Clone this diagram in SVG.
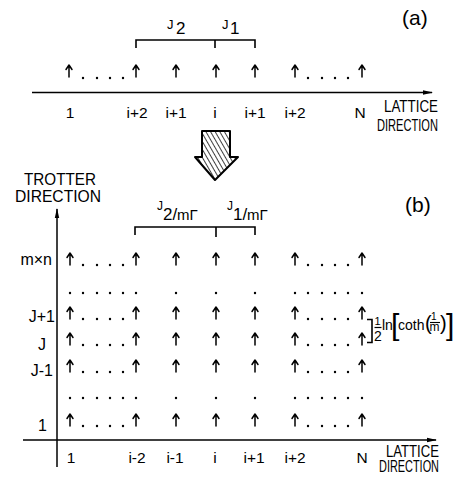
<svg xmlns="http://www.w3.org/2000/svg" xmlns:xlink="http://www.w3.org/1999/xlink" width="469" height="481" viewBox="0 0 469 481">
<style>
text{font-family:"Liberation Sans",Arial,sans-serif;fill:#000}
.lb{font-size:15.5px;text-anchor:middle}
.ax{fill:none;stroke:#000;stroke-width:1.5}
.br{fill:none;stroke:#000;stroke-width:1.6}
.sp{fill:none;stroke:#000;stroke-width:1.5;stroke-linecap:round;stroke-linejoin:round}
.dt{fill:#000}
.cap{font-size:17px}
</style>
<defs>
<symbol id="up" overflow="visible"><path class="sp" d="M0,12 V0.5 M-3,4.5 L0,0 L3,4.5"/></symbol>
<marker id="ah" markerWidth="10" markerHeight="6" refX="9" refY="3" orient="auto" markerUnits="userSpaceOnUse"><path d="M0,0.8 L10,3 L0,5.2 Z" fill="#000"/></marker>
<pattern id="hatch" width="4" height="4" patternUnits="userSpaceOnUse" patternTransform="rotate(-30)"><line x1="0" y1="0" x2="0" y2="4" stroke="#000" stroke-width="1.5"/></pattern>
</defs>

<!-- Part (a) -->
<g id="label-a"><text x="402" y="25" style="font-size:21px">(a)</text></g>
<g id="couplings-a">
<text x="167" y="29" style="font-size:13px">J</text><text x="176" y="34" style="font-size:17px">2</text>
<text x="222" y="29" style="font-size:13px">J</text><text x="230" y="34" style="font-size:17px">1</text>
<path class="br" d="M136,48 V40 H255 V48 M215,40 V48"/>
</g>
<g id="chain-a">
<use xlink:href="#up" x="69" y="65"/><use xlink:href="#up" x="136" y="65"/><use xlink:href="#up" x="176" y="65"/><use xlink:href="#up" x="216" y="65"/><use xlink:href="#up" x="255" y="65"/><use xlink:href="#up" x="295" y="65"/><use xlink:href="#up" x="362" y="65"/>
<g class="dt"><circle cx="83" cy="78" r="1.2"/><circle cx="97" cy="78" r="1.2"/><circle cx="110" cy="78" r="1.2"/><circle cx="123" cy="78" r="1.2"/><circle cx="308" cy="78" r="1.2"/><circle cx="322" cy="78" r="1.2"/><circle cx="335" cy="78" r="1.2"/><circle cx="348" cy="78" r="1.2"/></g>
</g>
<g id="axis-a">
<line class="ax" x1="32" y1="92.5" x2="432" y2="92.5" marker-end="url(#ah)"/>
<text class="lb" x="70" y="118">1</text><text class="lb" x="137" y="118">i+2</text><text class="lb" x="176" y="118">i+1</text><text class="lb" x="215" y="118">i</text><text class="lb" x="255" y="118">i+1</text><text class="lb" x="295" y="118">i+2</text><text class="lb" x="360" y="118">N</text>
<text class="cap" x="384" y="112" textLength="54" lengthAdjust="spacingAndGlyphs">LATTICE</text>
<text class="cap" x="377" y="131" textLength="61" lengthAdjust="spacingAndGlyphs">DIRECTION</text>
</g>

<!-- transformation arrow -->
<g id="transform-arrow">
<path d="M202,131 H230 V157 H238 L215,180 L195,157 H202 Z" fill="url(#hatch)" stroke="#000" stroke-width="2" stroke-linejoin="round"/>
</g>

<!-- Part (b) -->
<g id="label-b"><text x="405" y="212" style="font-size:21px">(b)</text></g>
<g id="trotter-label">
<text class="cap" x="24" y="185" textLength="72" lengthAdjust="spacingAndGlyphs">TROTTER</text>
<text class="cap" x="15" y="202" textLength="86" lengthAdjust="spacingAndGlyphs">DIRECTION</text>
</g>
<g id="couplings-b">
<text x="157" y="210" style="font-size:12px">J</text><text x="163" y="220" style="font-size:17px">2/</text><text x="177" y="220" style="font-size:15px">mΓ</text>
<text x="227" y="210" style="font-size:12px">J</text><text x="233" y="220" style="font-size:17px">1/</text><text x="247" y="220" style="font-size:15px">mΓ</text>
<path class="br" d="M135,235 V227 H255 V235 M216,227 V237"/>
</g>
<g id="axes-b">
<line class="ax" x1="57" y1="467" x2="57" y2="209" marker-end="url(#ah)"/>
<line class="ax" x1="23" y1="440" x2="436" y2="440" marker-end="url(#ah)"/>
</g>
<g id="row-labels">
<text x="52" y="265" style="font-size:16px;text-anchor:end">m×n</text>
<text x="55" y="322" style="font-size:16px;text-anchor:end">J+1</text>
<text x="46" y="350" style="font-size:16px;text-anchor:end">J</text>
<text x="53" y="376" style="font-size:16px;text-anchor:end">J-1</text>
<text x="47" y="431" style="font-size:16px;text-anchor:end">1</text>
</g>
<g id="lattice-b">
<g id="row-mn">
<use xlink:href="#up" x="70" y="253"/><use xlink:href="#up" x="136" y="253"/><use xlink:href="#up" x="176" y="253"/><use xlink:href="#up" x="216" y="253"/><use xlink:href="#up" x="255" y="253"/><use xlink:href="#up" x="295" y="253"/><use xlink:href="#up" x="362" y="253"/>
<g class="dt"><circle cx="83" cy="265" r="1.2"/><circle cx="97" cy="265" r="1.2"/><circle cx="110" cy="265" r="1.2"/><circle cx="123" cy="265" r="1.2"/><circle cx="308" cy="265" r="1.2"/><circle cx="322" cy="265" r="1.2"/><circle cx="335" cy="265" r="1.2"/><circle cx="348" cy="265" r="1.2"/></g>
</g>
<g id="row-dots-1" class="dt">
<circle cx="70" cy="293" r="1.2"/><circle cx="83" cy="293" r="1.2"/><circle cx="97" cy="293" r="1.2"/><circle cx="110" cy="293" r="1.2"/><circle cx="123" cy="293" r="1.2"/><circle cx="136" cy="293" r="1.2"/><circle cx="176" cy="293" r="1.2"/><circle cx="216" cy="293" r="1.2"/><circle cx="255" cy="293" r="1.2"/><circle cx="295" cy="293" r="1.2"/><circle cx="308" cy="293" r="1.2"/><circle cx="322" cy="293" r="1.2"/><circle cx="335" cy="293" r="1.2"/><circle cx="348" cy="293" r="1.2"/><circle cx="362" cy="293" r="1.2"/>
</g>
<g id="row-j1">
<use xlink:href="#up" x="70" y="307"/><use xlink:href="#up" x="136" y="307"/><use xlink:href="#up" x="176" y="307"/><use xlink:href="#up" x="216" y="307"/><use xlink:href="#up" x="255" y="307"/><use xlink:href="#up" x="295" y="307"/><use xlink:href="#up" x="362" y="307"/>
<g class="dt"><circle cx="83" cy="319" r="1.2"/><circle cx="97" cy="319" r="1.2"/><circle cx="110" cy="319" r="1.2"/><circle cx="123" cy="319" r="1.2"/><circle cx="308" cy="319" r="1.2"/><circle cx="322" cy="319" r="1.2"/><circle cx="335" cy="319" r="1.2"/><circle cx="348" cy="319" r="1.2"/></g>
</g>
<g id="row-j">
<use xlink:href="#up" x="70" y="333"/><use xlink:href="#up" x="136" y="333"/><use xlink:href="#up" x="176" y="333"/><use xlink:href="#up" x="216" y="333"/><use xlink:href="#up" x="255" y="333"/><use xlink:href="#up" x="295" y="333"/><use xlink:href="#up" x="362" y="333"/>
<g class="dt"><circle cx="83" cy="345" r="1.2"/><circle cx="97" cy="345" r="1.2"/><circle cx="110" cy="345" r="1.2"/><circle cx="123" cy="345" r="1.2"/><circle cx="308" cy="345" r="1.2"/><circle cx="322" cy="345" r="1.2"/><circle cx="335" cy="345" r="1.2"/><circle cx="348" cy="345" r="1.2"/></g>
</g>
<g id="row-jm1">
<use xlink:href="#up" x="70" y="360"/><use xlink:href="#up" x="136" y="360"/><use xlink:href="#up" x="176" y="360"/><use xlink:href="#up" x="216" y="360"/><use xlink:href="#up" x="255" y="360"/><use xlink:href="#up" x="295" y="360"/><use xlink:href="#up" x="362" y="360"/>
<g class="dt"><circle cx="83" cy="372" r="1.2"/><circle cx="97" cy="372" r="1.2"/><circle cx="110" cy="372" r="1.2"/><circle cx="123" cy="372" r="1.2"/><circle cx="308" cy="372" r="1.2"/><circle cx="322" cy="372" r="1.2"/><circle cx="335" cy="372" r="1.2"/><circle cx="348" cy="372" r="1.2"/></g>
</g>
<g id="row-dots-2" class="dt">
<circle cx="70" cy="398" r="1.2"/><circle cx="83" cy="398" r="1.2"/><circle cx="97" cy="398" r="1.2"/><circle cx="110" cy="398" r="1.2"/><circle cx="123" cy="398" r="1.2"/><circle cx="136" cy="398" r="1.2"/><circle cx="176" cy="398" r="1.2"/><circle cx="216" cy="398" r="1.2"/><circle cx="255" cy="398" r="1.2"/><circle cx="295" cy="398" r="1.2"/><circle cx="308" cy="398" r="1.2"/><circle cx="322" cy="398" r="1.2"/><circle cx="335" cy="398" r="1.2"/><circle cx="348" cy="398" r="1.2"/><circle cx="362" cy="398" r="1.2"/>
</g>
<g id="row-1">
<use xlink:href="#up" x="70" y="414"/><use xlink:href="#up" x="136" y="414"/><use xlink:href="#up" x="176" y="414"/><use xlink:href="#up" x="216" y="414"/><use xlink:href="#up" x="255" y="414"/><use xlink:href="#up" x="295" y="414"/><use xlink:href="#up" x="362" y="414"/>
<g class="dt"><circle cx="83" cy="426" r="1.2"/><circle cx="97" cy="426" r="1.2"/><circle cx="110" cy="426" r="1.2"/><circle cx="123" cy="426" r="1.2"/><circle cx="308" cy="426" r="1.2"/><circle cx="322" cy="426" r="1.2"/><circle cx="335" cy="426" r="1.2"/><circle cx="348" cy="426" r="1.2"/></g>
</g>
</g>
<g id="axis-labels-b">
<text class="lb" x="71" y="463">1</text><text class="lb" x="137" y="463">i-2</text><text class="lb" x="175" y="463">i-1</text><text class="lb" x="215" y="463">i</text><text class="lb" x="254" y="463">i+1</text><text class="lb" x="295" y="463">i+2</text><text class="lb" x="362" y="463">N</text>
<text class="cap" x="386" y="457" textLength="53" lengthAdjust="spacingAndGlyphs">LATTICE</text>
<text x="379" y="472" style="font-size:16px" textLength="60" lengthAdjust="spacingAndGlyphs">DIRECTION</text>
</g>
<g id="trotter-spacing">
<path class="br" d="M367,319.5 H372 V342.5 H367"/>
<text x="374.5" y="325" style="font-size:11px">1</text>
<line x1="374.5" y1="327.5" x2="381.5" y2="327.5" stroke="#000" stroke-width="1.2"/>
<text x="374" y="341" style="font-size:14px">2</text>
<text x="382" y="330" style="font-size:14px">ln</text>
<text x="391" y="335" style="font-size:30px;font-weight:300">[</text>
<text x="398" y="330" style="font-size:14px">coth</text>
<text x="425" y="330" style="font-size:20px">(</text>
<text x="431" y="320" style="font-size:10px">1</text>
<line x1="430" y1="322.5" x2="440" y2="322.5" stroke="#000" stroke-width="1.1"/>
<text x="429.5" y="331" style="font-size:12px">m</text>
<text x="440" y="330" style="font-size:20px">)</text>
<text x="446" y="335" style="font-size:30px;font-weight:300">]</text>
</g>
</svg>
